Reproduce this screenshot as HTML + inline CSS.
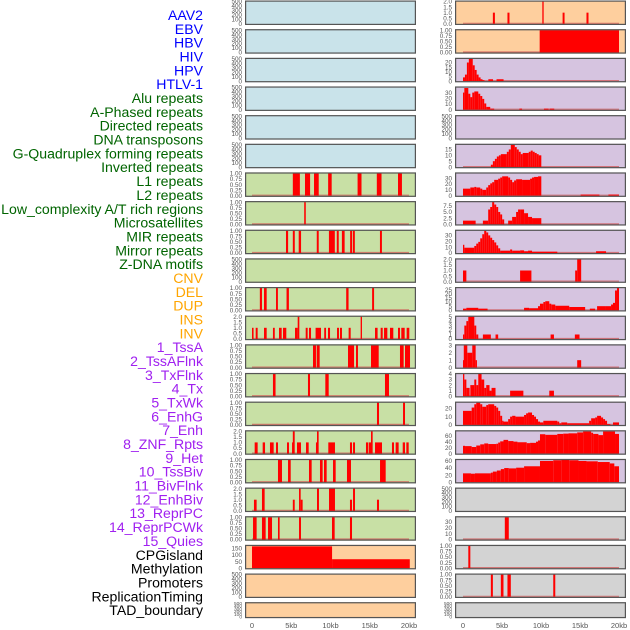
<!DOCTYPE html>
<html><head><meta charset="utf-8"><style>
html,body{margin:0;padding:0;background:#fff;}
svg{display:block;font-family:"Liberation Sans",sans-serif;}
</style></head><body>
<svg id="chart" width="630" height="630" viewBox="0 0 630 630" xmlns="http://www.w3.org/2000/svg">
<g id="labels"></g>
<g id="panels"></g>
<g id="xaxis"></g>
</svg>
<script>
// ---- data ----
const featureLabels = ["AAV2","EBV","HBV","HIV","HPV","HTLV-1","Alu repeats","A-Phased repeats","Directed repeats","DNA transposons","G-Quadruplex forming repeats","Inverted repeats","L1 repeats","L2 repeats","Low_complexity A/T rich regions","Microsatellites","MIR repeats","Mirror repeats","Z-DNA motifs","CNV","DEL","DUP","INS","INV","1_TssA","2_TssAFlnk","3_TxFlnk","4_Tx","5_TxWk","6_EnhG","7_Enh","8_ZNF_Rpts","9_Het","10_TssBiv","11_BivFlnk","12_EnhBiv","13_ReprPC","14_ReprPCWk","15_Quies","CPGisland","Methylation","Promoters","ReplicationTiming","TAD_boundary"];
const labelGroups = ["v","v","v","v","v","v","r","r","r","r","r","r","r","r","r","r","r","r","r","s","s","s","s","s","c","c","c","c","c","c","c","c","c","c","c","c","c","c","c","k","k","k","k","k"];
const xTickValues = [0,5,10,15,20];
const xTickLabels = ["0","5kb","10kb","15kb","20kb"];

const leftColors = ["b","b","b","b","b","b","g","g","g","g","g","g","g","g","g","g","g","g","g","o","o","o"];
const rightColors = ["o","o","p","p","p","p","p","p","p","p","p","p","p","p","p","p","p","g2","g2","g2","g2","g2"];
const leftMax = [500,500,500,500,500,500,1,1,1,500,1,2,1,1,1,2,1,2,1,170,500,500];
const rightMax = [2,1,24,39,500,19,38,9,38,2,27,5,3,4,27,75,63,500,38,1,1,500];
const leftTicks = [[0,100,200,300,400,500],[0,100,200,300,400,500],[0,100,200,300,400,500],[0,100,200,300,400,500],[0,100,200,300,400,500],[0,100,200,300,400,500],[0,0.25,0.5,0.75,1],[0,0.25,0.5,0.75,1],[0,0.25,0.5,0.75,1],[0,100,200,300,400,500],[0,0.25,0.5,0.75,1],[0,0.5,1,1.5,2],[0,0.25,0.5,0.75,1],[0,0.25,0.5,0.75,1],[0,0.25,0.5,0.75,1],[0,0.5,1,1.5,2],[0,0.25,0.5,0.75,1],[0,0.5,1,1.5,2],[0,0.25,0.5,0.75,1],[0,50,100,150],[0,100,200,300,400,500],[0,100,200,300,400,500]];
const rightTicks = [[0,0.5,1,1.5,2],[0,0.25,0.5,0.75,1],[0,5,10,15,20],[0,10,20,30],[0,100,200,300,400,500],[0,5,10,15],[0,10,20,30],[0,2.5,5,7.5],[0,10,20,30],[0,0.5,1,1.5,2],[0,5,10,15,20,25],[0,1,2,3,4,5],[0,1,2,3],[0,1,2,3,4],[0,10,20],[0,20,40,60],[0,20,40,60],[0,100,200,300,400,500],[0,10,20,30],[0,0.25,0.5,0.75,1],[0,0.25,0.5,0.75,1],[0,100,200,300,400,500]];

// segments: [startKb, endKb, value]
const leftSeries = [
 [],[],[],[],[],[],
 [[5.2,6.1,1],[6.75,7.4,1],[7.9,8.5,1],[9.7,10.15,1],[13.45,13.95,1],[15.9,16.5,1],[18.6,19.1,1]],
 [[6.65,6.85,1]],
 [[4.33,4.6,1],[5.2,5.45,1],[5.95,6.25,1],[8.25,8.5,1],[9.8,10.55,1],[10.8,11.05,1],[11.45,11.8,1],[12.5,12.75,1],[12.85,13.1,1],[16.3,16.55,1]],
 [],
 [[1.0,1.27,1],[1.53,1.87,1],[3.06,3.3,1],[4.4,4.7,1],[12.0,12.3,1],[15.3,15.55,1]],
 [[0,0.2,1],[0.47,0.72,1],[1.53,1.87,1],[2.67,2.9,1],[3.44,3.78,1],[3.95,4.37,1],[5.48,5.82,1],[5.82,6.03,2],[6.84,7.09,1],[7.26,7.52,1],[8.1,8.79,1],[9.2,9.43,1],[9.68,9.94,1],[10.83,11.08,1],[11.21,11.46,1],[12.31,12.57,1],[13.84,14.01,2],[15.67,16.0,1],[16.39,16.65,1],[16.82,17.24,1],[17.58,18.0,1],[18.6,18.85,1],[19.02,19.45,1],[19.7,20.04,1]],
 [[7.77,8.15,1],[8.24,8.62,1],[12.23,13.0,1],[13.25,13.5,1],[15.16,16.14,1],[18.85,19.32,1],[19.49,20.13,1]],
 [[2.67,3.0,1],[7.13,7.39,1],[9.34,9.77,1],[16.94,17.45,1]],
 [[15.92,16.18,1],[19.24,19.49,1]],
 [[0.34,0.72,1],[1.36,1.66,1],[2.29,2.76,1],[3.06,3.31,1],[4.46,4.71,1],[5.1,5.31,1],[5.2,5.44,2],[5.73,6.24,1],[6.88,7.22,1],[8.15,8.32,1],[8.28,8.49,2],[9.72,10.57,1],[12.48,12.74,1],[12.87,13.12,1],[14.52,14.78,1],[14.86,15.16,1],[15.16,15.37,2],[15.67,16.56,1],[17.83,18.09,1],[18.3,18.68,1],[19.2,19.49,1],[19.66,19.96,1]],
 [[3.31,3.82,1],[4.59,4.93,1],[7.26,7.6,1],[8.66,9.0,1],[9.17,9.51,1],[10.32,10.66,1],[12.1,12.61,1],[16.31,17.03,1]],
 [[0.25,0.59,1],[1.27,1.61,2],[5.2,5.44,1],[5.99,6.2,2],[6.2,6.45,1],[8.28,8.53,2],[9.81,10.57,2],[12.48,12.74,1],[12.87,13.12,2],[15.92,16.18,1]],
 [[0.13,0.59,1],[1.27,1.74,1],[2.04,2.55,1],[3.31,3.52,1],[5.99,6.24,1],[10.19,10.53,1],[12.48,12.74,1]],
 [[0,10.2,166],[10.2,20.1,68]],
 [],[]
];
const rightSeries = [
 [[3.83,4.09,1],[5.7,5.96,1],[10.17,10.34,2],[12.77,13.02,1],[15.83,16.09,1]],
 [[9.83,20.0,1]],
 [[0,0.25,4],[0.25,0.5,7],[0.5,0.75,20],[0.75,1.25,24],[1.25,1.5,17],[1.5,1.75,12],[1.75,2.0,7],[2.0,2.25,4],[2.25,2.5,2],[2.5,2.75,1],[3.25,3.85,2],[4.3,5.2,2]],
 [[0,0.17,30],[0.17,0.68,38],[0.68,0.94,28],[0.94,1.19,22],[1.19,1.45,30],[1.45,1.96,32],[1.96,2.21,28],[2.21,2.47,24],[2.47,2.72,19],[2.72,2.98,11],[2.98,3.49,5],[3.49,4.0,2],[7.23,7.57,2],[10.38,10.98,2],[11.1,11.7,2]],
 [],
 [[3.57,3.83,2],[3.83,4.09,5],[4.09,4.34,7],[4.34,4.6,9],[4.6,4.85,10],[4.85,5.62,11],[5.62,5.87,13],[5.87,6.13,15],[6.13,6.64,19],[6.64,6.89,17],[6.89,7.15,15],[7.15,7.4,13],[7.4,7.66,11],[7.66,8.43,12],[8.43,8.68,13],[8.68,8.94,14],[8.94,9.19,13],[9.19,9.45,12],[9.45,9.7,11],[9.7,10.04,10]],
 [[0,0.94,12],[0.94,1.45,14],[1.45,1.7,15],[1.7,2.21,14],[2.21,2.47,12],[2.47,2.98,10],[2.98,3.23,14],[3.23,3.49,18],[3.49,3.74,21],[3.74,4.0,23],[4.0,4.51,27],[4.51,4.77,29],[4.77,5.02,31],[5.02,5.79,33],[5.79,6.04,31],[6.04,6.3,27],[6.3,6.55,23],[6.55,6.81,26],[6.81,7.57,28],[7.57,8.6,27],[8.6,8.85,29],[8.85,9.11,31],[9.11,9.62,32],[9.62,10.04,33],[15.08,17.49,2],[18.64,20.0,2]],
 [[0,1.62,1.5],[2.55,3.23,1.5],[3.23,3.49,6],[3.49,3.74,7],[3.74,4.0,9],[4.0,4.26,8],[4.26,4.51,7],[4.51,4.77,5],[4.77,5.02,4],[5.02,5.28,2],[5.79,6.3,1.5],[6.3,6.81,3],[6.81,7.06,5],[7.06,7.32,6],[7.32,7.83,6],[7.83,8.34,4.5],[8.34,8.85,3],[8.85,10.04,2.5]],
 [[0,0.17,14],[0.17,1.45,9],[1.45,1.7,12],[1.7,1.96,16],[1.96,2.21,19],[2.21,2.47,25],[2.47,2.72,32],[2.72,2.98,38],[2.98,3.23,35],[3.23,3.49,30],[3.49,3.74,26],[3.74,4.0,22],[4.0,4.26,18],[4.26,4.51,13],[4.51,4.77,8],[4.77,6.04,4],[6.04,6.3,6],[6.3,7.32,4],[7.32,7.83,4.5],[7.83,8.34,3],[8.34,8.85,4],[8.85,12.09,2.3],[17.06,18.34,3]],
 [[0,0.43,1],[7.32,8.77,1],[14.38,14.64,1],[14.64,15.15,2]],
 [[0,0.43,2],[0.43,1.96,3],[1.96,3.15,2],[7.83,8.47,3],[8.47,9.62,2.5],[9.62,9.87,5],[9.87,10.3,8],[10.3,10.55,10],[10.55,11.06,11],[11.06,11.32,8],[11.32,11.83,7],[11.83,13.62,5.5],[13.62,15.66,4],[16.26,16.94,2],[17.19,18.21,5],[18.21,18.98,5],[18.98,19.23,7],[19.23,19.49,9],[19.49,19.74,24],[19.74,20.0,27]],
 [[0,0.17,1],[0.17,0.43,3],[0.43,0.68,4],[0.68,1.45,5],[1.45,1.7,3],[1.7,1.96,1],[2.55,3.57,1],[4.17,4.51,1],[11.23,11.66,1],[14.34,14.94,1]],
 [[0,0.1,1],[0.1,0.55,3],[0.55,1.19,2],[1.19,1.62,3],[1.62,1.79,1],[14.64,15.15,1]],
 [[0,0.17,4],[0.17,0.43,3],[0.43,0.85,1.5],[0.94,1.45,2],[1.45,1.7,3],[1.7,1.96,2],[1.96,2.38,4],[2.38,2.72,3],[2.72,2.98,1.5],[2.98,3.4,2],[3.4,3.66,1],[3.66,4.17,1.5],[6.04,7.74,1],[11.06,11.66,1]],
 [[0,1.11,17],[1.11,1.45,21],[1.45,1.7,25],[1.7,2.21,27],[2.21,2.47,25],[2.47,2.98,22],[2.98,3.23,24],[3.23,4.0,25],[4.0,4.26,23],[4.26,4.51,21],[4.51,4.77,17],[4.77,5.02,11],[5.02,5.19,5],[5.19,5.79,4],[5.79,6.04,7],[6.04,6.3,10],[6.3,6.72,11],[6.72,7.83,10],[7.83,8.09,12],[8.09,8.34,14],[8.34,8.85,15],[8.85,9.11,12],[9.11,9.36,10],[9.36,9.62,7],[9.62,9.87,4],[9.87,10.3,3],[10.3,12.09,5],[12.09,12.34,4],[12.34,12.6,2],[12.6,13.36,3],[13.36,16.17,2],[16.17,16.43,5],[16.43,16.94,8],[16.94,17.19,9],[17.19,17.7,11],[17.7,17.96,9],[17.96,18.21,7],[18.21,18.47,5],[18.47,18.89,1],[19.23,20.0,3]],
 [[0,0.26,26],[0.26,1.11,25],[1.11,1.7,22],[1.7,2.21,27],[2.21,2.72,31],[2.72,3.23,34],[3.23,4.26,32],[4.26,4.51,33],[4.51,4.77,37],[4.77,5.19,41],[5.19,5.79,46],[5.79,6.47,42],[6.47,6.98,40],[6.98,8.17,38],[8.17,8.6,35],[8.6,9.36,36],[9.36,9.62,40],[9.62,9.87,44],[9.87,10.55,65],[10.55,12.09,63],[12.09,12.85,66],[12.85,13.53,67],[13.53,14.64,68],[14.64,15.4,71],[15.4,16.43,74],[16.43,16.68,70],[16.68,17.36,66],[17.36,17.96,62],[17.96,19.49,74],[19.49,20.0,66]],
 [[0,1.02,25],[1.02,1.53,24],[1.53,3.57,25],[3.57,3.83,27],[3.83,4.34,30],[4.34,4.85,33],[4.85,5.28,37],[5.28,5.87,40],[5.87,6.81,39],[6.81,7.83,41],[7.83,9.87,45],[9.87,11.57,60],[11.57,12.6,62],[12.6,13.62,64],[13.62,14.81,62],[14.81,15.83,60],[15.83,17.28,59],[17.28,18.81,57],[18.81,19.4,53],[19.4,20.0,45]],
 [],
 [[5.36,5.87,38]],
 [[0.68,0.94,1]],
 [[3.57,3.83,1],[4.85,5.19,1],[5.7,6.13,1],[11.57,11.83,1]],
 []
];

// ---- layout ----
const NS="http://www.w3.org/2000/svg";
const fills={b:"#c9e3ea",g:"#c8e0a5",o:"#fecf9e",p:"#d6c4e0",g2:"#d3d3d3"};
const labelColors={v:"#0000ff",r:"#006400",s:"#ffa500",c:"#a020f0",k:"#000000"};
const rowTop=i=>0.5+28.65*i;
const rowH=i=>i===21?16:24.5;
function el(tag,attrs,parent){const e=document.createElementNS(NS,tag);for(const k in attrs)e.setAttribute(k,attrs[k]);parent.appendChild(e);return e;}
function fmt(v,ticks){const m=Math.max(...ticks);if(m===1)return v.toFixed(2);if(m===2)return v.toFixed(1);if(ticks.includes(2.5))return v===0?"0.0":v.toFixed(1);return String(v);}

const labelsG=document.getElementById('labels');
featureLabels.forEach((t,i)=>{
  const tx=el('text',{x:203,y:15+i*13.84+5,'text-anchor':'end','font-size':'14.1',fill:labelColors[labelGroups[i]]},labelsG);
  
  
  tx.textContent=t;
});

const panelsG=document.getElementById('panels');
function drawPanel(side,i,color,ymax,ticks,segs){
  const x0=side==='L'?245:455, w=171;
  const kb0=side==='L'?252:463, pxPerKb=side==='L'?7.85:7.8;
  const xs=kb=>kb0+kb*pxPerKb;
  const top=rowTop(i), h=rowH(i);
  const yBase=top+h-1.2, yTop=top+1;
  const ys=v=>yBase-(v/ymax)*(yBase-yTop);
  const g=el('g',{},panelsG);
  
  
  const bg=el('rect',{x:x0,y:top,width:w,height:h,fill:fills[color]},g);
  
  
  if(segs.length){
    const bl=el('line',{x1:xs(0),x2:xs(20),y1:yBase-0.5,y2:yBase-0.5,stroke:'#d05050','stroke-width':1.2,opacity:0.7},g);
    
    
  }
  segs.forEach(s=>{
    const x1=xs(s[0]),x2=xs(s[1]),y=ys(s[2]);
    const r=el('rect',{x:x1,y:y,width:Math.max(1,x2-x1),height:yBase-y,fill:'#ff0000'},g);
    
    
  });
  el('rect',{x:x0+0.6,y:top+0.6,width:w-1.2,height:h-1.2,fill:'none',stroke:'#555','stroke-width':1.2},g);
  const fs=h<20?4.8:6.3;
  ticks.forEach(v=>{
    const t=el('text',{x:x0-3,y:ys(v)+fs*0.35,'text-anchor':'end','font-size':fs,fill:'#555'},g);
    
    
    t.textContent=fmt(v,ticks);
  });
}
for(let i=0;i<22;i++){
  drawPanel('L',i,leftColors[i],leftMax[i],leftTicks[i],leftSeries[i]);
  drawPanel('R',i,rightColors[i],rightMax[i],rightTicks[i],rightSeries[i]);
}
const xg=document.getElementById('xaxis');
[[252,7.85],[463,7.8]].forEach(([k0,p])=>{
  xTickValues.forEach((v,j)=>{
    const t=el('text',{x:k0+v*p,y:628,'text-anchor':'middle','font-size':'7.5',fill:'#555'},xg);
    
    
    t.textContent=xTickLabels[j];
  });
});
</script>
</body></html>
